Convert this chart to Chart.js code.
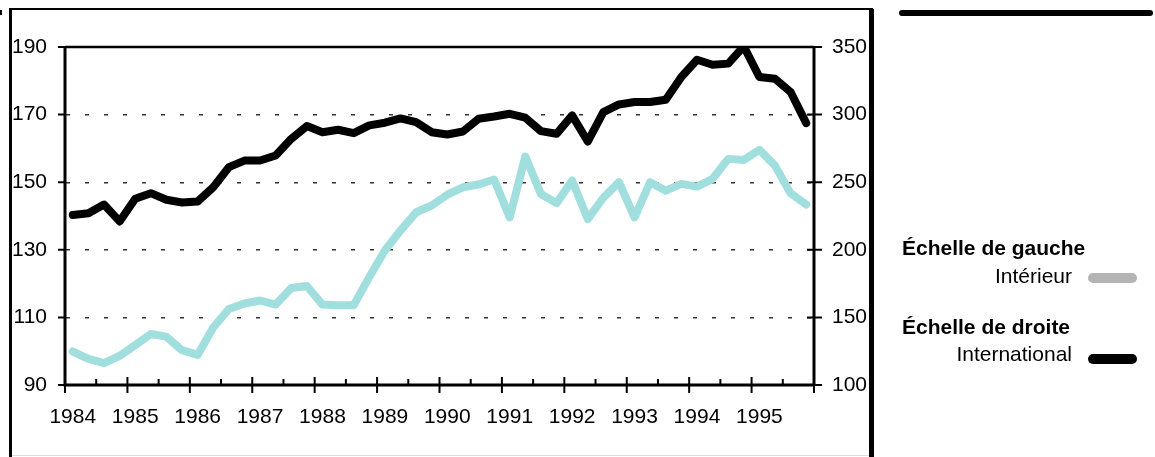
<!DOCTYPE html>
<html>
<head>
<meta charset="utf-8">
<script src="https://cdn.jsdelivr.net/npm/chart.js@4.4.1/dist/chart.umd.min.js"></script>
<style>
  body { margin: 0; background: #fff; }
  #wrap { position: relative; width: 1155px; height: 457px; overflow: hidden;
          font-family: "Liberation Sans", Arial, sans-serif; color: #000; }
  #chart { position: absolute; left: 0; top: 0; }
  .frame { position: absolute; background: #000; }
  .lg { position: absolute; font-size: 21px; line-height: 21px; white-space: nowrap; }
  .lg.head { font-weight: bold; left: 902px; }
  .lg.item { right: 83px; }
  .swatch { position: absolute; left: 1088px; width: 49px; height: 10px; border-radius: 5px; }
</style>
</head>
<body>
<div id="wrap">
  <canvas id="chart" width="1155" height="457"></canvas>
  <div class="frame" style="left:9px;top:8px;width:3px;height:449px"></div>
  <div class="frame" style="left:9px;top:8px;width:864px;height:2px"></div>
  <div class="frame" style="left:869px;top:9px;width:5px;height:448px"></div>
  <div class="frame" style="left:12px;top:455px;width:857px;height:1px;background:#ddd"></div>
  <div class="frame" style="left:0;top:10px;width:2px;height:5px"></div>
  <div class="frame" style="left:899px;top:10px;width:254px;height:6px;border-radius:3px"></div>

  <div class="lg head" style="top:237px">Échelle de gauche</div>
  <div class="lg item" style="top:265px">Intérieur</div>
  <div class="swatch" style="top:273px;background:#b4b4b4"></div>
  <div class="lg head" style="top:316px">Échelle de droite</div>
  <div class="lg item" style="top:343px">International</div>
  <div class="swatch" style="top:354px;background:#000"></div>
</div>
<script>
// Years on the x axis, four quarters each
const years = ["1984", "1985", "1986", "1987", "1988", "1989", "1990", "1991", "1992", "1993", "1994", "1995"];
const quarterNames = ["T1", "T2", "T3", "T4"];
const quarters = years.flatMap(y => quarterNames.map(q => y + " " + q));

// Left scale series
const interieur = [
  99.9, 97.7, 96.5, 98.6, 101.8, 105.1, 104.3, 100.3, 98.9, 107, 112.5, 114.1,
  115, 113.8, 118.7, 119.3, 113.8, 113.6, 113.6, 121.9, 129.8, 135.7, 141.1, 143.1,
  146.3, 148.5, 149.3, 150.8, 139.6, 157.6, 146.5, 143.8, 150.5, 139.1, 145.4, 150,
  139.6, 150, 147.5, 149.5, 148.7, 151, 156.9, 156.6, 159.6, 154.9, 146.7, 143.4
];

// Right scale series
const international = [
  225.8, 227, 233.5, 221, 237.7, 241.9, 237, 235, 235.7, 246.3, 261.1, 266,
  266, 269.8, 282.1, 291.5, 287, 288.8, 286.3, 292, 294, 297.2, 294.4, 287,
  285.3, 287.5, 296.9, 298.6, 300.6, 297.7, 287.8, 285.8, 299.4, 280.1, 301.9, 307.5,
  309.3, 309.3, 311, 327.8, 340.6, 336.9, 337.7, 350.5, 327.8, 326.5, 316.7, 293.7
];

const leftTicks = [90, 110, 130, 150, 170, 190];
const rightTicks = [100, 150, 200, 250, 300, 350];

Chart.defaults.font.family = '"Liberation Sans", Arial, sans-serif';
Chart.defaults.font.size = 21;
Chart.defaults.color = "#000";

// Plot frame and tick marks, placed with the chart's own scales
const axisFrame = {
  id: "axisFrame",
  beforeDatasetsDraw(chart) {
    const { ctx, chartArea: a, scales } = chart;
    ctx.save();
    ctx.strokeStyle = "#000";

    ctx.lineWidth = 2.5;
    ctx.beginPath();
    ctx.moveTo(a.left, a.top);
    ctx.lineTo(a.right, a.top);
    ctx.stroke();

    ctx.lineWidth = 3;
    ctx.beginPath();
    ctx.moveTo(a.left, a.top - 1);
    ctx.lineTo(a.left, a.bottom);
    ctx.lineTo(a.right, a.bottom);
    ctx.moveTo(a.right, a.top - 1);
    ctx.lineTo(a.right, a.bottom + 1);
    ctx.stroke();

    ctx.lineWidth = 2;
    ctx.beginPath();
    leftTicks.forEach(v => {
      const y = scales.y.getPixelForValue(v);
      ctx.moveTo(a.left - 7, y);
      ctx.lineTo(a.left, y);
    });
    rightTicks.forEach(v => {
      const y = scales.y2.getPixelForValue(v);
      ctx.moveTo(a.right - 7, y);
      ctx.lineTo(a.right + 8, y);
    });
    const x = scales.x;
    const half = (x.getPixelForValue(1) - x.getPixelForValue(0)) / 2;
    for (let k = 0; k <= quarters.length; k += 2) {
      const px = x.getPixelForValue(k) - half;
      ctx.moveTo(px, a.bottom - (k % 4 === 0 ? 8 : 6));
      ctx.lineTo(px, a.bottom + (k % 4 === 0 ? 8 : 0));
    }
    ctx.stroke();
    ctx.restore();
  }
};

new Chart(document.getElementById("chart"), {
  type: "line",
  data: {
    labels: quarters,
    datasets: [
      {
        label: "Intérieur",
        data: interieur,
        yAxisID: "y",
        borderColor: "#a0dfde",
        borderWidth: 8,
        borderJoinStyle: "round",
        borderCapStyle: "round",
        pointRadius: 0,
        tension: 0
      },
      {
        label: "International",
        data: international,
        yAxisID: "y2",
        borderColor: "#000",
        borderWidth: 8,
        borderJoinStyle: "round",
        borderCapStyle: "round",
        pointRadius: 0,
        tension: 0
      }
    ]
  },
  options: {
    responsive: false,
    animation: false,
    layout: { padding: { top: 47, left: 0, right: 0, bottom: 0 } },
    plugins: { legend: { display: false }, tooltip: { enabled: false } },
    scales: {
      x: {
        type: "category",
        offset: true,
        grid: { display: false, drawTicks: false },
        border: { display: false },
        ticks: {
          autoSkip: false,
          maxRotation: 0,
          padding: 20,
          callback: (val, idx) => (idx % 4 === 0 ? years[idx / 4] : "")
        },
        afterFit: s => { s.height = 72; }
      },
      y: {
        position: "left",
        min: 90,
        max: 190,
        afterBuildTicks: s => { s.ticks = leftTicks.map(v => ({ value: v })); },
        grid: {
          drawTicks: false,
          lineWidth: 1.4,
          color: c => (c.tick && (c.tick.value === 90 || c.tick.value === 190) ? "rgba(0,0,0,0)" : "#333")
        },
        border: { display: false, dash: [4, 15], dashOffset: -1 },
        ticks: { padding: 18 },
        afterFit: s => { s.width = 65; }
      },
      y2: {
        position: "right",
        min: 100,
        max: 350,
        afterBuildTicks: s => { s.ticks = rightTicks.map(v => ({ value: v })); },
        grid: { display: false, drawTicks: false },
        border: { display: false },
        ticks: { padding: 18 },
        afterFit: s => { s.width = 341; }
      }
    }
  },
  plugins: [axisFrame]
});
</script>
</body>
</html>
